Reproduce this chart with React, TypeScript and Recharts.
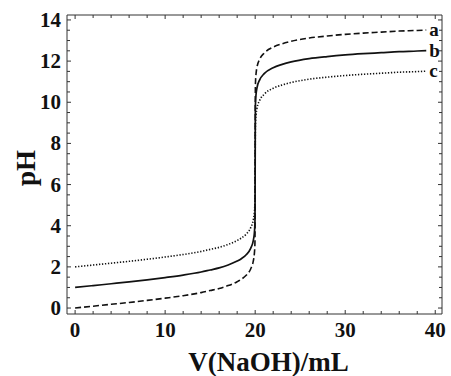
import { LineChart, Line, XAxis, YAxis, LabelList } from "recharts";

// titrant volume (mL) and pH
const volumes = [0, 2, 4, 6, 8, 10, 12, 14, 15, 16, 17, 18, 18.5, 19, 19.5, 19.8, 19.9, 19.95, 19.98, 20, 20.02, 20.05, 20.1, 20.2, 20.5, 21, 22, 23, 24, 26, 28, 30, 32, 34, 36, 38, 39];
const phA = [0.0, 0.09, 0.18, 0.27, 0.37, 0.48, 0.6, 0.75, 0.85, 0.95, 1.09, 1.28, 1.41, 1.59, 1.9, 2.3, 2.6, 2.9, 3.3, 7.0, 10.7, 11.1, 11.4, 11.7, 12.09, 12.39, 12.68, 12.84, 12.96, 13.12, 13.22, 13.3, 13.36, 13.41, 13.46, 13.49, 13.51];
const phB = [1.0, 1.09, 1.18, 1.27, 1.37, 1.48, 1.6, 1.75, 1.85, 1.95, 2.09, 2.28, 2.41, 2.59, 2.9, 3.3, 3.6, 3.9, 4.3, 7.0, 9.7, 10.1, 10.4, 10.7, 11.09, 11.39, 11.68, 11.84, 11.96, 12.12, 12.22, 12.3, 12.36, 12.41, 12.46, 12.49, 12.51];
const phC = [2.0, 2.09, 2.18, 2.27, 2.37, 2.48, 2.6, 2.75, 2.85, 2.95, 3.09, 3.28, 3.41, 3.59, 3.9, 4.3, 4.6, 4.9, 5.3, 7.0, 8.7, 9.1, 9.4, 9.7, 10.09, 10.39, 10.68, 10.84, 10.96, 11.12, 11.22, 11.3, 11.36, 11.41, 11.46, 11.49, 11.51];

const xTicks = [0, 2, 4, 6, 8, 10, 12, 14, 16, 18, 20, 22, 24, 26, 28, 30, 32, 34, 36, 38, 40];
const yTicks = [0, 0.5, 1, 1.5, 2, 2.5, 3, 3.5, 4, 4.5, 5, 5.5, 6, 6.5, 7, 7.5, 8, 8.5, 9, 9.5, 10, 10.5, 11, 11.5, 12, 12.5, 13, 13.5, 14];
const xLabels = [0, 10, 20, 30, 40];
const yLabels = [0, 2, 4, 6, 8, 10, 12, 14];

const data = volumes.map((v, i) => ({ v, a: phA[i], b: phB[i], c: phC[i] }));

const FONT = "'Liberation Serif', 'Times New Roman', serif";
const AXIS = "#333";
const X_DOMAIN = [-0.9, 40.75];
const Y_DOMAIN = [-0.29, 14.24];

// ticks point into the plot; labels only on the major ones
const BottomTick = (props: any) => {
  const { x, y, payload } = props;
  const major = xLabels.includes(payload.value);
  return (
    <g>
      <line x1={x} x2={x} y1={y} y2={y - (major ? 4 : 3)} stroke={AXIS} strokeWidth={1} />
      {major && (
        <text x={x} y={y + 23} textAnchor="middle" fontFamily={FONT} fontWeight="bold" fontSize={21} fill="#111">
          {payload.value}
        </text>
      )}
    </g>
  );
};

const TopTick = (props: any) => {
  const { x, y, payload } = props;
  const major = xLabels.includes(payload.value);
  return <line x1={x} x2={x} y1={y} y2={y + (major ? 4 : 3)} stroke={AXIS} strokeWidth={1} />;
};

const LeftTick = (props: any) => {
  const { x, y, payload } = props;
  const major = yLabels.includes(payload.value);
  return (
    <g>
      <line x1={x} x2={x + (major ? 4 : 3)} y1={y} y2={y} stroke={AXIS} strokeWidth={1} />
      {major && (
        <text x={x - 6} y={y + 7} textAnchor="end" fontFamily={FONT} fontWeight="bold" fontSize={21} fill="#111">
          {payload.value}
        </text>
      )}
    </g>
  );
};

const RightTick = (props: any) => {
  const { x, y, payload } = props;
  const major = yLabels.includes(payload.value);
  return <line x1={x} x2={x - (major ? 4 : 3)} y1={y} y2={y} stroke={AXIS} strokeWidth={1} />;
};

const endLabel = (name: string) => (props: any) => {
  const { x, y, index } = props;
  if (index !== volumes.length - 1) return null;
  return (
    <text x={x + 3} y={y + 6} fontFamily={FONT} fontWeight="bold" fontSize={19} fill="#111">
      {name}
    </text>
  );
};

export default function App() {
  return (
    <div style={{ position: "absolute", left: 0, top: 0, background: "#fff" }}>
      <LineChart width={451} height={376} data={data} margin={{ top: 14, right: 8, left: 0, bottom: 0 }}>
        <XAxis
          dataKey="v"
          type="number"
          domain={X_DOMAIN}
          ticks={xTicks}
          interval={0}
          tickSize={0}
          tickMargin={0}
          tick={<BottomTick />}
          height={62}
          stroke={AXIS}
          allowDataOverflow
          label={{
            content: (p: any) => {
              const vb = p.viewBox;
              return (
                <text x={vb.x + vb.width / 2 + 14} y={371} textAnchor="middle" fontFamily={FONT} fontWeight="bold" fontSize={27} fill="#111">
                  V(NaOH)/mL
                </text>
              );
            },
          }}
        />
        <XAxis
          xAxisId="top"
          orientation="top"
          dataKey="v"
          type="number"
          domain={X_DOMAIN}
          ticks={xTicks}
          interval={0}
          tickSize={0}
          tickMargin={0}
          tick={<TopTick />}
          height={1}
          stroke={AXIS}
          allowDataOverflow
        />
        <YAxis
          type="number"
          domain={Y_DOMAIN}
          ticks={yTicks}
          interval={0}
          tickSize={0}
          tickMargin={0}
          tick={<LeftTick />}
          width={67}
          stroke={AXIS}
          allowDataOverflow
          label={{
            content: () => (
              <text x={35} y={168} transform="rotate(-90 35 168)" textAnchor="middle" fontFamily={FONT} fontWeight="bold" fontSize={27} fill="#111">
                pH
              </text>
            ),
          }}
        />
        <YAxis
          yAxisId="right"
          orientation="right"
          type="number"
          domain={Y_DOMAIN}
          ticks={yTicks}
          interval={0}
          tickSize={0}
          tickMargin={0}
          tick={<RightTick />}
          width={1}
          stroke={AXIS}
          allowDataOverflow
        />
        <Line type="monotone" dataKey="a" stroke="#111" strokeWidth={1.6} strokeDasharray="6 3" dot={false} isAnimationActive={false}>
          <LabelList dataKey="a" content={endLabel("a")} />
        </Line>
        <Line type="monotone" dataKey="b" stroke="#111" strokeWidth={1.7} dot={false} isAnimationActive={false}>
          <LabelList dataKey="b" content={endLabel("b")} />
        </Line>
        <Line type="monotone" dataKey="c" stroke="#111" strokeWidth={1.6} strokeDasharray="1.3 1.7" dot={false} isAnimationActive={false}>
          <LabelList dataKey="c" content={endLabel("c")} />
        </Line>
      </LineChart>
    </div>
  );
}
